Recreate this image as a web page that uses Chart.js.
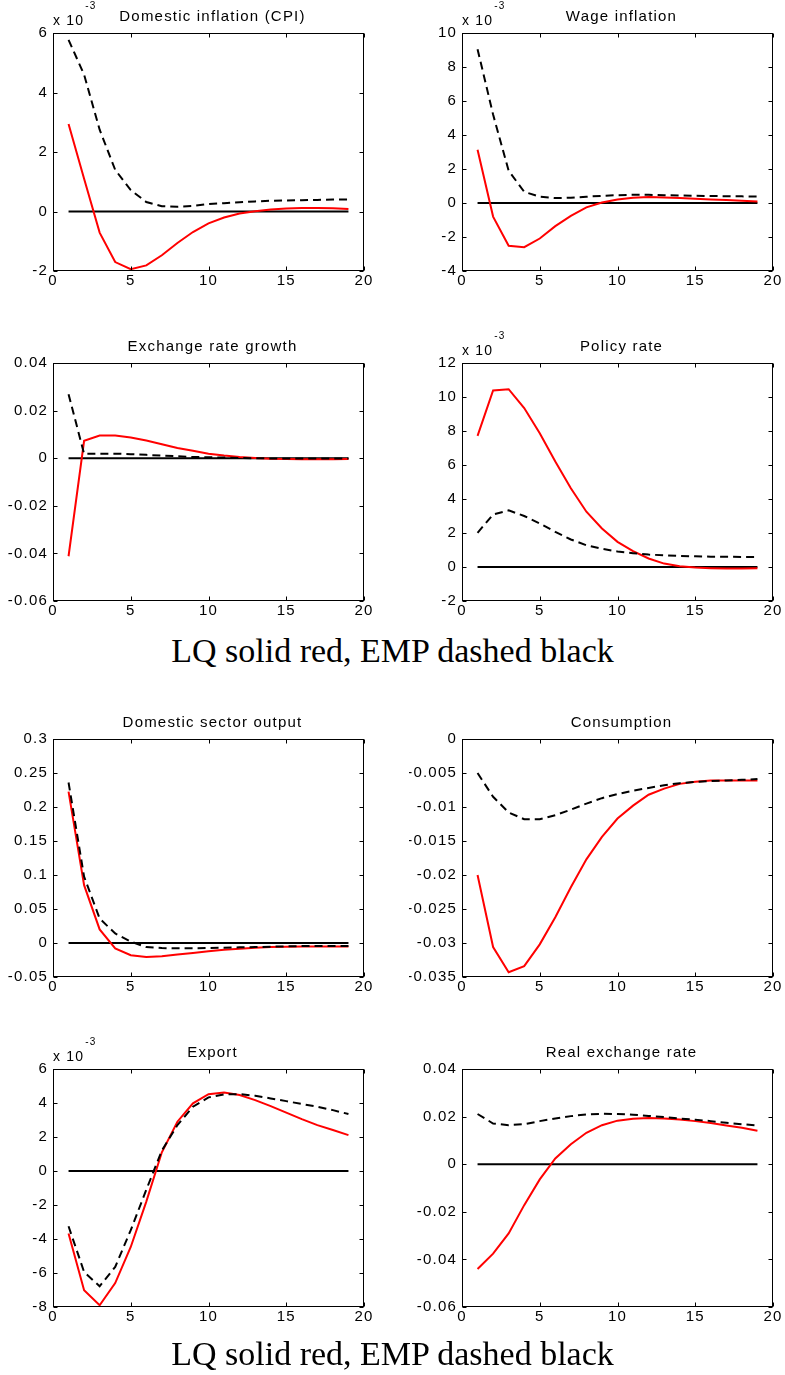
<!DOCTYPE html>
<html>
<head>
<meta charset="utf-8">
<title>LQ vs EMP impulse responses</title>
<script src="https://cdn.jsdelivr.net/npm/chart.js@4.4.0/dist/chart.umd.min.js"></script>
<style>
  body { margin: 0; background: #fff; width: 785px; height: 1375px; position: relative; overflow: hidden; }
  canvas { position: absolute; }
  .caption {
    position: absolute; left: 0; width: 785px; text-align: center;
    font-family: "Liberation Serif", serif; font-size: 34px; line-height: 34px; color: #000;
  }
</style>
</head>
<body>
<canvas id="c1" width="376" height="301" style="left:0;top:0"></canvas>
<canvas id="c2" width="376" height="301" style="left:409px;top:0"></canvas>
<canvas id="c3" width="376" height="301" style="left:0;top:330px"></canvas>
<canvas id="c4" width="376" height="301" style="left:409px;top:330px"></canvas>
<div class="caption" style="top:634px">LQ solid red, EMP dashed black</div>
<canvas id="c5" width="376" height="301" style="left:0;top:706px"></canvas>
<canvas id="c6" width="376" height="301" style="left:409px;top:706px"></canvas>
<canvas id="c7" width="376" height="301" style="left:0;top:1036px"></canvas>
<canvas id="c8" width="376" height="301" style="left:409px;top:1036px"></canvas>
<div class="caption" style="top:1337px">LQ solid red, EMP dashed black</div>

<script>
// Horizon (quarters)
const periods = [1, 2, 3, 4, 5, 6, 7, 8, 9, 10, 11, 12, 13, 14, 15, 16, 17, 18, 19];
const xTicks = [0, 5, 10, 15, 20];

// Domestic inflation (CPI), x 10^-3
const cpiLQ  = [2.94, 1.10, -0.71, -1.70, -1.94, -1.81, -1.47, -1.06, -0.69, -0.40, -0.20, -0.07, 0.01, 0.07, 0.10, 0.12, 0.12, 0.11, 0.08];
const cpiEMP = [5.77, 4.60, 2.75, 1.40, 0.72, 0.32, 0.18, 0.16, 0.19, 0.25, 0.28, 0.31, 0.34, 0.36, 0.37, 0.38, 0.39, 0.40, 0.40];
const cpiTicks = [-2, 0, 2, 4, 6];

// Wage inflation, x 10^-3
const wageLQ  = [3.13, -0.80, -2.52, -2.60, -2.09, -1.36, -0.76, -0.26, 0.03, 0.21, 0.31, 0.35, 0.33, 0.29, 0.25, 0.21, 0.17, 0.13, 0.09];
const wageEMP = [9.05, 5.20, 1.90, 0.66, 0.37, 0.29, 0.31, 0.37, 0.42, 0.46, 0.48, 0.48, 0.46, 0.44, 0.42, 0.41, 0.40, 0.39, 0.38];
const wageTicks = [-4, -2, 0, 2, 4, 6, 8, 10];

// Exchange rate growth
const erLQ  = [-0.0412, 0.0073, 0.0095, 0.0095, 0.0087, 0.0074, 0.0059, 0.0043, 0.0031, 0.0019, 0.0011, 0.0005, 0.0001, -0.0002, -0.0003, -0.0004, -0.0004, -0.0004, -0.0003];
const erEMP = [0.0269, 0.0018, 0.0019, 0.0019, 0.0017, 0.0014, 0.0011, 0.0008, 0.0005, 0.0004, 0.0003, 0.0001, 0.0000, -0.0001, -0.0001, -0.0001, -0.0001, -0.0001, -0.0001];
const erTicks = [-0.06, -0.04, -0.02, 0, 0.02, 0.04];

// Policy rate, x 10^-3
const polLQ  = [7.71, 10.38, 10.46, 9.35, 7.87, 6.20, 4.63, 3.25, 2.27, 1.48, 0.93, 0.50, 0.20, 0.05, -0.03, -0.07, -0.09, -0.09, -0.07];
const polEMP = [2.01, 3.09, 3.33, 3.00, 2.56, 2.07, 1.62, 1.28, 1.07, 0.91, 0.81, 0.73, 0.69, 0.65, 0.63, 0.61, 0.60, 0.59, 0.59];
const polTicks = [-2, 0, 2, 4, 6, 8, 10, 12];

// Domestic sector output
const outLQ  = [0.2225, 0.085, 0.020, -0.008, -0.018, -0.0206, -0.0196, -0.017, -0.0147, -0.0123, -0.0098, -0.0083, -0.0069, -0.0059, -0.0054, -0.0050, -0.0050, -0.0050, -0.0050];
const outEMP = [0.236, 0.0975, 0.036, 0.014, 0.002, -0.006, -0.0074, -0.0079, -0.0079, -0.0074, -0.0069, -0.0064, -0.0060, -0.0054, -0.0050, -0.0045, -0.0045, -0.0045, -0.0045];
const outTicks = [-0.05, 0, 0.05, 0.1, 0.15, 0.2, 0.25, 0.3];

// Consumption
const consLQ  = [-0.0200, -0.0306, -0.0343, -0.0334, -0.0302, -0.0262, -0.0218, -0.0177, -0.0144, -0.0117, -0.0098, -0.0082, -0.0073, -0.0066, -0.0063, -0.0061, -0.0061, -0.0061, -0.0061];
const consEMP = [-0.0050, -0.0085, -0.0108, -0.0118, -0.0118, -0.0112, -0.0104, -0.0095, -0.0087, -0.0081, -0.0076, -0.0072, -0.0068, -0.0065, -0.0063, -0.0062, -0.0061, -0.0060, -0.0059];
const consTicks = [-0.035, -0.03, -0.025, -0.02, -0.015, -0.01, -0.005, 0];

// Export, x 10^-3
const expLQ  = [-3.68, -7.02, -7.90, -6.59, -4.47, -1.80, 1.10, 2.90, 3.98, 4.52, 4.62, 4.47, 4.17, 3.82, 3.43, 3.05, 2.70, 2.41, 2.11];
const expEMP = [-3.25, -5.94, -6.78, -5.64, -3.48, -1.10, 1.20, 2.70, 3.78, 4.33, 4.51, 4.52, 4.43, 4.27, 4.11, 3.94, 3.78, 3.58, 3.35];
const expTicks = [-8, -6, -4, -2, 0, 2, 4, 6];

// Real exchange rate
const rerLQ  = [-0.0440, -0.0376, -0.0291, -0.0172, -0.0064, 0.0024, 0.0084, 0.0132, 0.0164, 0.0183, 0.0191, 0.0194, 0.0192, 0.0188, 0.0181, 0.0173, 0.0163, 0.0153, 0.0141];
const rerEMP = [0.0211, 0.0171, 0.0164, 0.0168, 0.0181, 0.0192, 0.0202, 0.0209, 0.0212, 0.0211, 0.0208, 0.0203, 0.0198, 0.0192, 0.0187, 0.0181, 0.0174, 0.0168, 0.0163];
const rerTicks = [-0.06, -0.04, -0.02, 0, 0.02, 0.04];

const panels = [
    { id: 'c1', title: 'Domestic inflation (CPI)', lq: cpiLQ, emp: cpiEMP, ticks: cpiTicks, scaled: true },
    { id: 'c2', title: 'Wage inflation', lq: wageLQ, emp: wageEMP, ticks: wageTicks, scaled: true },
    { id: 'c3', title: 'Exchange rate growth', lq: erLQ, emp: erEMP, ticks: erTicks, scaled: false },
    { id: 'c4', title: 'Policy rate', lq: polLQ, emp: polEMP, ticks: polTicks, scaled: true },
    { id: 'c5', title: 'Domestic sector output', lq: outLQ, emp: outEMP, ticks: outTicks, scaled: false },
    { id: 'c6', title: 'Consumption', lq: consLQ, emp: consEMP, ticks: consTicks, scaled: false },
    { id: 'c7', title: 'Export', lq: expLQ, emp: expEMP, ticks: expTicks, scaled: true },
    { id: 'c8', title: 'Real exchange rate', lq: rerLQ, emp: rerEMP, ticks: rerTicks, scaled: false }
];

const FONT = '"Liberation Sans", Arial, sans-serif';

// MATLAB-style box, inward ticks, title and the "x 10^-3" exponent
const framePlugin = {
    id: 'frame',
    beforeDraw(chart) {
        chart.ctx.letterSpacing = '1.2px';
    },
    afterDraw(chart, args, opts) {
        const { ctx, chartArea: a, scales: { x, y } } = chart;
        const L = Math.round(a.left) + 0.5, T = Math.round(a.top) + 0.5;
        const R = Math.round(a.right) - 0.5, B = Math.round(a.bottom) - 0.5;
        ctx.save();
        ctx.strokeStyle = '#000';
        ctx.lineWidth = 1;
        ctx.strokeRect(L, T, R - L, B - T);
        ctx.beginPath();
        x.ticks.forEach(t => {
            const px = Math.round(x.getPixelForValue(t.value)) + 0.5;
            ctx.moveTo(px, B); ctx.lineTo(px, B - 4);
            ctx.moveTo(px, T); ctx.lineTo(px, T + 4);
        });
        y.ticks.forEach(t => {
            const py = Math.round(y.getPixelForValue(t.value)) + 0.5;
            ctx.moveTo(L, py); ctx.lineTo(L + 4, py);
            ctx.moveTo(R, py); ctx.lineTo(R - 4, py);
        });
        ctx.stroke();

        ctx.fillStyle = '#000';
        ctx.letterSpacing = '1.2px';
        ctx.font = '15px ' + FONT;
        ctx.textAlign = 'center';
        ctx.textBaseline = 'alphabetic';
        ctx.fillText(opts.title, (a.left + a.right) / 2 + 4, a.top - 12);

        if (opts.scaled) {
            ctx.textAlign = 'left';
            ctx.font = '14px ' + FONT;
            ctx.fillText('x 10', a.left, a.top - 8);
            const w = ctx.measureText('x 10').width;
            ctx.font = '10px ' + FONT;
            ctx.fillText('-3', a.left + w + 1, a.top - 24);
        }
        ctx.restore();
    }
};

function fmt(v) {
    return String(Number(v.toFixed(4)));
}

function makeChart(p) {
    const ctx = document.getElementById(p.id).getContext('2d');
    const ticks = p.ticks;
    return new Chart(ctx, {
        type: 'line',
        data: {
            datasets: [
                {
                    label: 'EMP',
                    data: periods.map((t, i) => ({ x: t, y: p.emp[i] })),
                    borderColor: '#000',
                    borderWidth: 2,
                    borderDash: [8, 5],
                    pointRadius: 0,
                    tension: 0,
                    fill: false
                },
                {
                    label: 'LQ',
                    data: periods.map((t, i) => ({ x: t, y: p.lq[i] })),
                    borderColor: '#ff0000',
                    borderWidth: 2,
                    pointRadius: 0,
                    tension: 0,
                    fill: false
                },
                {
                    label: 'zero',
                    data: [{ x: periods[0], y: 0 }, { x: periods[periods.length - 1], y: 0 }],
                    borderColor: '#000',
                    borderWidth: 2,
                    pointRadius: 0,
                    fill: false
                }
            ]
        },
        options: {
            responsive: false,
            animation: false,
            devicePixelRatio: 1,
            layout: { padding: { left: 0, top: 33, right: 12, bottom: 0 } },
            plugins: {
                legend: { display: false },
                tooltip: { enabled: false },
                title: { display: false },
                frame: { title: p.title, scaled: p.scaled }
            },
            scales: {
                x: {
                    type: 'linear',
                    min: xTicks[0],
                    max: xTicks[xTicks.length - 1],
                    afterBuildTicks: s => { s.ticks = xTicks.map(v => ({ value: v })); },
                    afterFit: s => { s.height = 30; },
                    grid: { display: false, drawTicks: false },
                    border: { display: false },
                    ticks: {
                        padding: 1,
                        color: '#000',
                        font: { family: FONT, size: 15 },
                        maxRotation: 0,
                        callback: v => fmt(v)
                    }
                },
                y: {
                    type: 'linear',
                    min: ticks[0],
                    max: ticks[ticks.length - 1],
                    afterBuildTicks: s => { s.ticks = ticks.map(v => ({ value: v })); },
                    afterFit: s => { s.width = 53; },
                    grid: { display: false, drawTicks: false },
                    border: { display: false },
                    ticks: {
                        padding: 5,
                        color: '#000',
                        font: { family: FONT, size: 15 },
                        callback: v => fmt(v)
                    }
                }
            }
        },
        plugins: [framePlugin]
    });
}

panels.forEach(makeChart);
</script>
</body>
</html>
